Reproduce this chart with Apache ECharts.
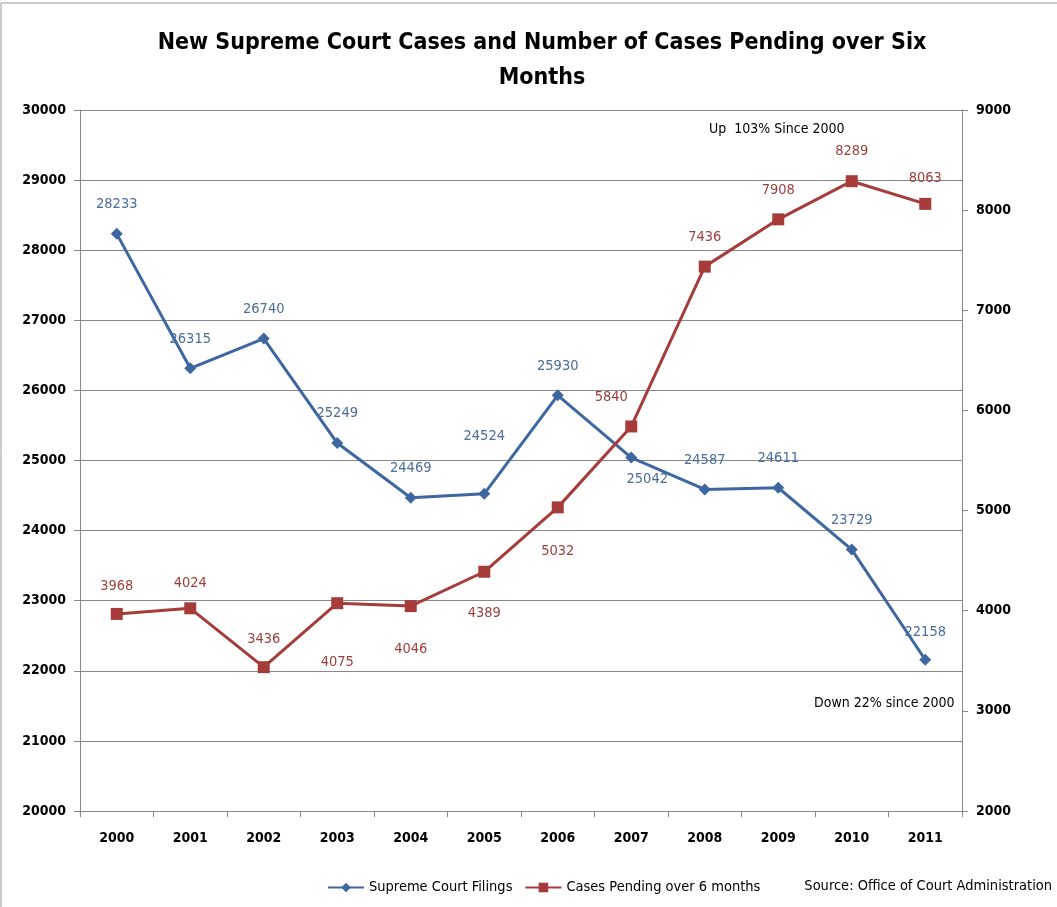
<!DOCTYPE html>
<html><head><meta charset="utf-8">
<script src="https://cdn.jsdelivr.net/npm/echarts@6/dist/echarts.min.js"></script>
<style>html,body{margin:0;padding:0;background:#fff}#c{width:1057px;height:907px}</style>
</head><body><div id="c"></div>
<script>
const years = ['2000','2001','2002','2003','2004','2005','2006','2007','2008','2009','2010','2011'];
const filings = [28233,26315,26740,25249,24469,24524,25930,25042,24587,24611,23729,22158];
const pending = [3968,4024,3436,4075,4046,4389,5032,5840,7436,7908,8289,8063];
// label placement per point (style)
const filingsLabelPos = ['top','top','top','top','top','top','top','bottom','top','top','top','top'];
const pendingLabelPos = ['top','top','top','bottom','bottom','bottom','bottom','top','top','top','top','top'];

const FONT = "'DejaVu Sans Condensed','Liberation Sans Narrow',sans-serif";
const BLUE = '#3e67a1', RED = '#a63c3a';
const BLUE_T = '#4a6d9c', RED_T = '#9c3f3c';

function mk(vals, pos, extra) {
  return vals.map((v, i) => {
    const o = {value: v, label: {position: pos[i]}};
    if (extra && extra[i]) Object.assign(o.label, extra[i]);
    return o;
  });
}
const fExtra = {5: {distance: 44}, 7: {offset: [16, -8]}, 11: {distance: 14}};
const pExtra = {0: {distance: 14}, 1: {distance: 12}, 2: {distance: 14}, 3: {distance: 46}, 4: {distance: 30}, 5: {distance: 28}, 6: {distance: 30}, 7: {offset: [-20, 0]}, 8: {distance: 16}, 11: {distance: 12}};

const axisLbl = {fontFamily: FONT, fontSize: 14, fontWeight: 'bold', color: '#000', formatter: v => String(v)};

const chart = echarts.init(document.getElementById('c'));
chart.setOption({
  animation: false,
  backgroundColor: '#fff',
  textStyle: {fontFamily: FONT},
  title: {
    text: 'New Supreme Court Cases and Number of Cases Pending over Six\nMonths',
    left: 537, top: 21, textAlign: 'center',
    textStyle: {fontFamily: FONT, fontSize: 23, fontWeight: 'bold', color: '#000', lineHeight: 35}
  },
  grid: {left: 80, right: 95, top: 110, bottom: 96},
  legend: {
    data: ['Supreme Court Filings', 'Cases Pending over 6 months'],
    left: 322, top: 875, itemWidth: 36, itemHeight: 12, itemGap: 12,
    textStyle: {fontFamily: FONT, fontSize: 14.5, color: '#000'}
  },
  xAxis: {
    type: 'category', data: years, boundaryGap: true,
    axisLine: {lineStyle: {color: '#888'}},
    axisTick: {show: true, length: 6, lineStyle: {color: '#888'}},
    axisLabel: Object.assign({}, axisLbl, {margin: 20})
  },
  yAxis: [{
    type: 'value', min: 20000, max: 30000, interval: 1000,
    axisLine: {show: true, lineStyle: {color: '#888'}},
    axisTick: {show: true, length: 6, lineStyle: {color: '#888'}},
    splitLine: {lineStyle: {color: '#888'}},
    axisLabel: Object.assign({}, axisLbl, {margin: 14})
  }, {
    type: 'value', min: 2000, max: 9000, interval: 1000, position: 'right',
    axisLine: {show: true, lineStyle: {color: '#888'}},
    axisTick: {show: true, length: 6, lineStyle: {color: '#888'}},
    splitLine: {show: false},
    axisLabel: Object.assign({}, axisLbl, {margin: 14})
  }],
  series: [{
    name: 'Supreme Court Filings', type: 'line', yAxisIndex: 0,
    data: mk(filings, filingsLabelPos, fExtra),
    symbol: 'diamond', symbolSize: 12,
    lineStyle: {color: BLUE, width: 3}, itemStyle: {color: BLUE},
    label: {show: true, distance: 16, color: BLUE_T, fontFamily: FONT, fontSize: 14.5}
  }, {
    name: 'Cases Pending over 6 months', type: 'line', yAxisIndex: 1,
    data: mk(pending, pendingLabelPos, pExtra),
    symbol: 'rect', symbolSize: 12,
    lineStyle: {color: RED, width: 3}, itemStyle: {color: RED},
    label: {show: true, distance: 16, color: RED_T, fontFamily: FONT, fontSize: 14.5}
  }],
  graphic: [
    {type: 'rect', shape: {x: 1, y: 3, width: 1060, height: 910}, style: {fill: 'none', stroke: '#999', lineWidth: 1}, silent: true},
    {type: 'text', left: 709, top: 122, style: {text: 'Up  103% Since 2000', font: "14px 'DejaVu Sans Condensed', sans-serif", fill: '#000'}},
    {type: 'text', left: 814, top: 696, style: {text: 'Down 22% since 2000', font: "14px 'DejaVu Sans Condensed', sans-serif", fill: '#000'}},
    {type: 'text', right: 5, top: 879, style: {text: 'Source: Office of Court Administration', font: "14.5px 'DejaVu Sans Condensed', sans-serif", fill: '#000'}}
  ]
});
</script></body></html>
